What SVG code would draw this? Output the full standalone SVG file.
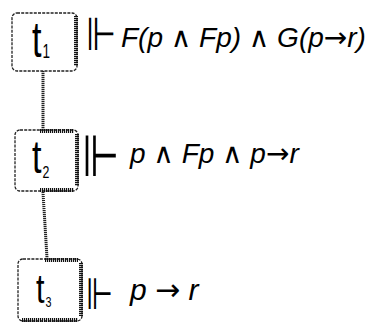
<svg xmlns="http://www.w3.org/2000/svg" width="380" height="329" viewBox="0 0 380 329">
<style>
.box{fill:none;stroke:#222;stroke-width:1.3;stroke-dasharray:3 1.2}
.sh{fill:none;stroke:#111;stroke-width:4;stroke-dasharray:1.2 0.8}
.conn{fill:none;stroke:#222;stroke-width:3;stroke-dasharray:1.2 0.8}
.lbl{font-family:"Liberation Sans","DejaVu Sans",sans-serif;fill:#000}
.sym{font-family:"DejaVu Sans",sans-serif;font-weight:200;fill:#000}
.f{font-family:"Liberation Sans","DejaVu Sans",sans-serif;font-style:italic;fill:#000}
.o{font-family:"DejaVu Sans",sans-serif;font-style:normal}
</style>
<rect width="380" height="329" fill="#fff"/>
<g id="connectors">
<path class="conn" d="M43 71 L43 129"/>
<path class="conn" d="M43 192 L47 258"/>
</g>
<g id="t1">
<rect class="box" x="12" y="13" width="65" height="58" rx="5"/>
<path class="sh" d="M76 16 L76 66"/>
<text class="lbl" transform="translate(32 57) scale(0.9 1.3)" font-size="38">t<tspan font-size="15" dx="1" dy="1">1</tspan></text>
</g>
<g id="t2">
<rect class="box" x="15" y="130" width="63" height="61" rx="5"/>
<path class="sh" d="M40 131 L74 131 M77 134 L77 186 M40 190 L74 190"/>
<text class="lbl" transform="translate(32 173) scale(0.95 1.3)" font-size="36">t<tspan font-size="13" dx="1" dy="4">2</tspan></text>
</g>
<g id="t3">
<rect class="box" x="18" y="259" width="64" height="62" rx="5"/>
<path class="sh" d="M45 260 L78 260 M81 263 L81 316 M22 320 L78 320"/>
<text class="lbl" transform="translate(36 303) scale(0.9 1.2)" font-size="34">t<tspan font-size="12" dx="1" dy="3">3</tspan></text>
</g>
<g id="formulas">
<text class="sym" transform="translate(86 50) scale(1 1.35)" font-size="34" textLength="30" lengthAdjust="spacingAndGlyphs">⊩</text>
<text class="f" x="121" y="47" font-size="28">F(p <tspan class="o">∧</tspan> Fp) <tspan class="o">∧</tspan> G(p<tspan class="o">→</tspan>r)</text>
<text class="sym" transform="translate(82 176) scale(1 1.45)" font-size="40" textLength="38" lengthAdjust="spacingAndGlyphs">⊩</text>
<text class="f" x="130" y="163" font-size="28">p <tspan class="o">∧</tspan> Fp <tspan class="o">∧</tspan> p<tspan class="o">→</tspan>r</text>
<text class="sym" transform="translate(86 309) scale(1 1.3)" font-size="34" textLength="27" lengthAdjust="spacingAndGlyphs">⊩</text>
<text class="f" x="130" y="300" font-size="30">p <tspan class="o">→</tspan> r</text>
</g>
</svg>
